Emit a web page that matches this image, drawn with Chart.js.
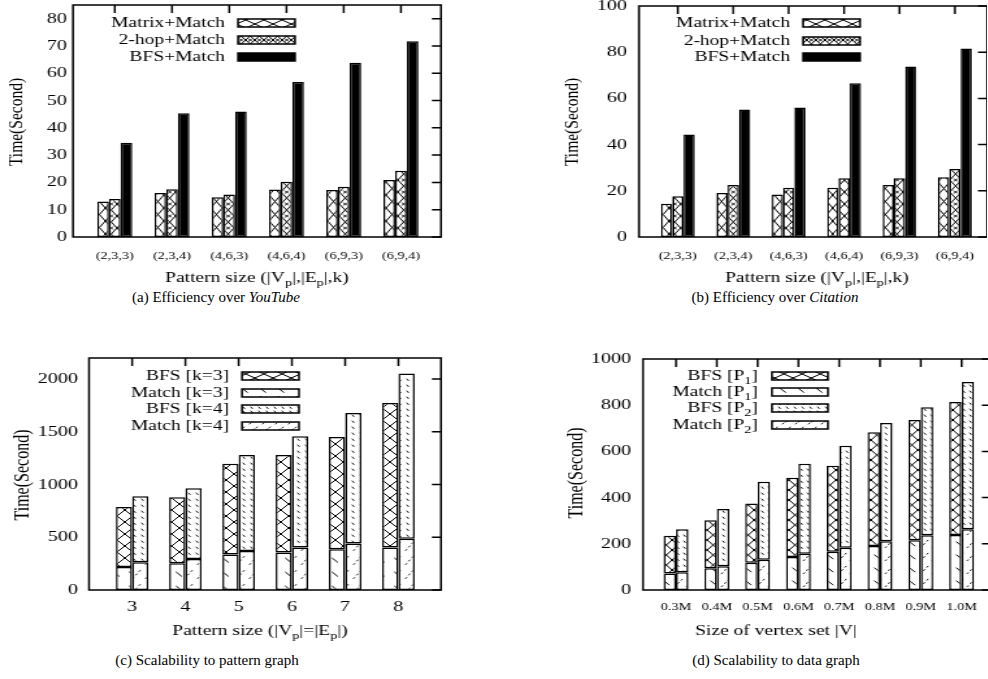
<!DOCTYPE html>
<html><head><meta charset="utf-8">
<script src="https://cdn.jsdelivr.net/npm/chart.js@4/dist/chart.umd.min.js"></script>
<style>
html,body{margin:0;padding:0;background:#fff;overflow:hidden;width:988px;height:679px;position:relative;}
.wrap{position:absolute;}
.wrap canvas{display:block;transform-origin:0 0;}
.cap{position:absolute;font-family:'Liberation Serif',serif;font-size:15px;line-height:16px;white-space:nowrap;transform:translateX(-50%);color:#000;}
</style></head><body>
<div class="cap" id="capA" style="left:216px;top:289px;">(a) Efficiency over <i>YouTube</i></div>
<div class="cap" id="capB" style="left:775px;top:289px;">(b) Efficiency over <i>Citation</i></div>
<div class="cap" id="capC" style="left:207px;top:652px;">(c) Scalability to pattern graph</div>
<div class="cap" id="capD" style="left:776px;top:652px;">(d) Scalability to data graph</div>
<script>
// ---------- data ----------
const catsA = ['(2,3,3)','(2,3,4)','(4,6,3)','(4,6,4)','(6,9,3)','(6,9,4)'];
const matrixA = [13.0, 16.1, 14.6, 17.4, 17.2, 20.9];
const twoHopA = [13.9, 17.5, 15.6, 20.2, 18.4, 24.3];
const bfsA = [34.5, 45.3, 46.0, 56.8, 63.8, 71.7];
const yTicksA = [0,10,20,30,40,50,60,70,80];

const catsB = ['(2,3,3)','(2,3,4)','(4,6,3)','(4,6,4)','(6,9,3)','(6,9,4)'];
const matrixB = [14.4, 19.0, 18.4, 21.3, 22.5, 25.9];
const twoHopB = [17.6, 22.5, 21.3, 25.4, 25.4, 29.4];
const bfsB = [44.4, 55.2, 56.1, 66.6, 73.8, 81.6];
const yTicksB = [0,20,40,60,80,100];

const catsC = ['3','4','5','6','7','8'];
const matchK3C = [219, 254, 336, 355, 387, 403];
const bfsK3C = [568, 625, 861, 924, 1063, 1371];
const matchK4C = [264, 295, 371, 403, 441, 486];
const bfsK4C = [624, 669, 908, 1056, 1237, 1567];
const yTicksC = [0,500,1000,1500,2000];

const catsD = ['0.3M','0.4M','0.5M','0.6M','0.7M','0.8M','0.9M','1.0M'];
const matchP1D = [71, 94, 118, 143, 166, 190, 215, 238];
const bfsP1D = [164, 208, 256, 343, 372, 493, 521, 576];
const matchP2D = [77, 103, 131, 157, 183, 211, 237, 263];
const bfsP2D = [186, 248, 338, 390, 442, 512, 554, 637];
const yTicksD = [0,200,400,600,800,1000];

const legendAB = ['Matrix+Match','2-hop+Match','BFS+Match'];
const legendC = ['BFS [k=3]','Match [k=3]','BFS [k=4]','Match [k=4]'];
const legendD = ['BFS [P_1]','Match [P_1]','BFS [P_2]','Match [P_2]'];

// ---------- helpers ----------
const SX = 1.3;
const FONT = '"Liberation Serif", "Times New Roman", serif';

function mkPattern(ctx, kind, w, h){
  const c = document.createElement('canvas'); c.width = w; c.height = h;
  const g = c.getContext('2d');
  g.fillStyle = '#fff'; g.fillRect(0,0,w,h);
  g.strokeStyle = '#000'; g.fillStyle = '#000'; g.lineWidth = 1; g.lineCap = 'round';
  const line = (x1,y1,x2,y2)=>{ g.beginPath(); g.moveTo(x1,y1); g.lineTo(x2,y2); g.stroke(); };
  if (kind === 'cross' || kind === 'crossx') {
    for (const dx of [-w,0,w]) for (const dy of [-h,0,h]) {
      line(dx,dy,dx+w,dy+h); line(dx+w,dy,dx,dy+h);
    }
    if (kind === 'crossx') {
      g.lineWidth = 1;
      for (const dy of [0,h]) {
        const cx = w/2, cy = dy, r = 1.1;
        line(cx-r,cy-r,cx+r,cy+r); line(cx+r,cy-r,cx-r,cy+r);
      }
    }
  } else if (kind === 'dash') {
    line(w*0.3, h*0.3, w*0.3+4, h*0.3+4);
  } else if (kind === 'dots') {
    g.lineWidth = 0.9;
    line(1,1,2.2,2.6);
  } else if (kind === 'slash') {
    g.lineWidth = 0.9;
    line(2,h*0.75,2.8,h*0.75-1); line(4.5,h*0.5,5.3,h*0.5-1); line(7,h*0.25,7.8,h*0.25-1);
  }
  return ctx.createPattern(c,'repeat');
}

function drawRich(ctx, text, x, y, size, align){
  const parts = []; const re = /_(.)/g; let last = 0, m;
  while ((m = re.exec(text))) {
    if (m.index > last) parts.push({t:text.slice(last,m.index), sub:false});
    parts.push({t:m[1], sub:true}); last = re.lastIndex;
  }
  if (last < text.length) parts.push({t:text.slice(last), sub:false});
  const fN = size + 'px ' + FONT, fS = Math.round(size*0.72) + 'px ' + FONT;
  let w = 0;
  parts.forEach(p=>{ ctx.font = p.sub ? fS : fN; p.w = ctx.measureText(p.t).width; w += p.w; });
  let cx = align === 'right' ? x - w : (align === 'center' ? x - w/2 : x);
  ctx.textBaseline = 'middle'; ctx.textAlign = 'left'; ctx.fillStyle = '#000';
  parts.forEach(p=>{ ctx.font = p.sub ? fS : fN; ctx.fillText(p.t, cx, y + (p.sub ? size*0.32 : 0)); cx += p.w; });
}

const framePlugin = {
  id: 'frame',
  afterDraw(chart){
    const o = chart.options.plugins.frame;
    const ctx = chart.ctx, a = chart.chartArea;
    const xs = chart.scales.x, ys = chart.scales.y;
    ctx.save();
    ctx.strokeStyle = '#000'; ctx.lineWidth = 1.5;
    ctx.beginPath();
    xs.ticks.forEach(t=>{ const px = xs.getPixelForValue(t.value); ctx.moveTo(px, a.top); ctx.lineTo(px, a.top + 8); });
    ys.ticks.forEach(t=>{ const py = ys.getPixelForValue(t.value); ctx.moveTo(a.right, py); ctx.lineTo(a.right - 7, py); });
    ctx.stroke();
    ctx.strokeRect(a.left, a.top, a.right - a.left, a.bottom - a.top);
    // legend
    const lg = o.legend;
    const tx = (lg.textRight - o.L)/SX, bl = (lg.boxL - o.L)/SX, br = (lg.boxR - o.L)/SX;
    lg.items.forEach((it, i)=>{
      const y = lg.rows[i] - o.T;
      drawRich(ctx, it.label, tx, y, lg.size, 'right');
      ctx.fillStyle = it.fill;
      ctx.fillRect(bl, y - lg.boxH/2, br - bl, lg.boxH);
      ctx.lineWidth = 1.5; ctx.strokeStyle = '#000';
      ctx.strokeRect(bl, y - lg.boxH/2, br - bl, lg.boxH);
    });
    // x title
    drawRich(ctx, o.xTitle.text, (o.xTitle.x - o.L)/SX, o.xTitle.y - o.T, o.xTitle.size, 'center');
    // y title
    ctx.save();
    ctx.translate((o.yTitle.x - o.L)/SX, o.yTitle.y - o.T);
    ctx.rotate(-Math.PI/2);
    ctx.font = o.yTitle.size + 'px ' + FONT; ctx.fillStyle = '#000';
    ctx.textAlign = 'center'; ctx.textBaseline = 'middle';
    ctx.fillText(o.yTitle.text, 0, 0);
    ctx.restore();
    ctx.restore();
  }
};

function build(cfg){
  const wrap = document.createElement('div');
  wrap.className = 'wrap'; wrap.style.left = cfg.L + 'px'; wrap.style.top = cfg.T + 'px';
  const cv = document.createElement('canvas');
  const cw = Math.round(cfg.W / SX);
  cv.width = cw; cv.height = cfg.H;
  cv.style.transform = 'scaleX(' + SX + ')';
  wrap.appendChild(cv); document.body.appendChild(wrap);
  const ctx = cv.getContext('2d');
  const pl = (cfg.plot.l - cfg.L)/SX, pr = (cfg.plot.r - cfg.L)/SX;
  const pt = cfg.plot.t - cfg.T, pb = cfg.plot.b - cfg.T;
  const datasets = cfg.series(ctx).map(s => ({
    label: s.label,
    data: s.values.map((v,i)=>({x:i, y:v})),
    backgroundColor: s.fill,
    borderColor: '#000', borderWidth: 1.5, borderSkipped: false,
    stack: s.stack
  }));
  const legendItems = cfg.legendFills(ctx);
  const xLabelLH = cfg.xFont * 1.2;
  new Chart(ctx, {
    type: 'bar',
    data: { datasets },
    options: {
      responsive: false, animation: false, events: [],
      layout: { padding: { left: 0, top: pt, right: cw - pr, bottom: 0 } },
      datasets: { bar: { categoryPercentage: cfg.catPct, barPercentage: 1 } },
      plugins: {
        legend: { display: false }, tooltip: { enabled: false },
        frame: {
          L: cfg.L, T: cfg.T,
          legend: { textRight: cfg.legend.textRight, boxL: cfg.legend.boxL, boxR: cfg.legend.boxR, boxH: 8, size: 15, rows: cfg.legend.rows, items: legendItems },
          xTitle: cfg.xTitle, yTitle: cfg.yTitle
        }
      },
      scales: {
        x: {
          type: 'linear', min: cfg.xMin, max: cfg.xMax, offset: false,
          grid: { display: false, drawTicks: false }, border: { display: false },
          afterBuildTicks: s => { s.ticks = cfg.cats.map((c,i)=>({value:i})); },
          ticks: { callback: v => cfg.cats[v], font: { family: FONT, size: cfg.xFont }, color: '#000',
                   padding: (cfg.xLabelY - cfg.plot.b) - xLabelLH/2, maxRotation: 0, minRotation: 0, autoSkip: false },
          afterFit: s => { s.height = cfg.H - pb; s.paddingLeft = 0; s.paddingRight = 0; s.paddingTop = 0; s.paddingBottom = 0; }
        },
        y: {
          min: 0, max: cfg.yMax, stacked: !!cfg.stacked,
          grid: { display: false, drawTicks: false }, border: { display: false },
          afterBuildTicks: s => { s.ticks = cfg.yTicks.map(v=>({value:v})); },
          ticks: { callback: v => String(v), font: { family: FONT, size: cfg.yFont }, color: '#000',
                   padding: pl - (cfg.yLabelRight - cfg.L)/SX },
          afterFit: s => { s.width = pl; s.paddingLeft = 0; s.paddingRight = 0; s.paddingTop = 0; s.paddingBottom = 0; }
        }
      }
    },
    plugins: [framePlugin]
  });
}

// (a)
build({
  L: 0, T: 0, W: 460, H: 300, plot: { l: 73, r: 441, t: 5, b: 237 },
  xMin: -0.73, xMax: 5.70, yMax: 85, yTicks: yTicksA, cats: catsA,
  xFont: 11, xLabelY: 256, yFont: 15.5, yLabelRight: 67, catPct: 0.61,
  series: ctx => [
    { label: legendAB[0], values: matrixA, fill: mkPattern(ctx,'cross',9,13) },
    { label: legendAB[1], values: twoHopA, fill: mkPattern(ctx,'crossx',9,12) },
    { label: legendAB[2], values: bfsA, fill: '#000' }
  ],
  legendFills: ctx => [
    { label: legendAB[0], fill: mkPattern(ctx,'cross',14,8) },
    { label: legendAB[1], fill: mkPattern(ctx,'crossx',7,8) },
    { label: legendAB[2], fill: '#000' }
  ],
  legend: { textRight: 225, boxL: 238, boxR: 295, rows: [23,40,57] },
  xTitle: { text: 'Pattern size (|V_p|,|E_p|,k)', x: 257, y: 278, size: 15 },
  yTitle: { text: 'Time(Second)', x: 17, y: 122, size: 15.5 }
});

// (b)
build({
  L: 470, T: 0, W: 518, H: 300, plot: { l: 639, r: 987, t: 6, b: 237 },
  xMin: -0.70, xMax: 5.58, yMax: 100, yTicks: yTicksB, cats: catsB,
  xFont: 11, xLabelY: 256, yFont: 15.5, yLabelRight: 627, catPct: 0.61,
  series: ctx => [
    { label: legendAB[0], values: matrixB, fill: mkPattern(ctx,'cross',9,13) },
    { label: legendAB[1], values: twoHopB, fill: mkPattern(ctx,'crossx',9,12) },
    { label: legendAB[2], values: bfsB, fill: '#000' }
  ],
  legendFills: ctx => [
    { label: legendAB[0], fill: mkPattern(ctx,'cross',14,8) },
    { label: legendAB[1], fill: mkPattern(ctx,'crossx',7,8) },
    { label: legendAB[2], fill: '#000' }
  ],
  legend: { textRight: 790, boxL: 803, boxR: 860, rows: [23,41,57] },
  xTitle: { text: 'Pattern size (|V_p|,|E_p|,k)', x: 817, y: 278, size: 15 },
  yTitle: { text: 'Time(Second)', x: 572, y: 122, size: 15.5 }
});

// (c)
build({
  L: 0, T: 330, W: 460, H: 315, plot: { l: 89, r: 441, t: 358, b: 590 },
  xMin: -0.81, xMax: 5.80, yMax: 2200, yTicks: yTicksC, cats: catsC, stacked: true,
  xFont: 15.5, xLabelY: 607, yFont: 15.5, yLabelRight: 78, catPct: 0.61,
  series: ctx => [
    { label: legendC[1], values: matchK3C, fill: mkPattern(ctx,'dash',12,14), stack: 'k3' },
    { label: legendC[0], values: bfsK3C, fill: mkPattern(ctx,'cross',12,12), stack: 'k3' },
    { label: legendC[3], values: matchK4C, fill: mkPattern(ctx,'slash',10,14), stack: 'k4' },
    { label: legendC[2], values: bfsK4C, fill: mkPattern(ctx,'dots',6,6), stack: 'k4' }
  ],
  legendFills: ctx => [
    { label: legendC[0], fill: mkPattern(ctx,'cross',14,8) },
    { label: legendC[1], fill: mkPattern(ctx,'dash',14,8) },
    { label: legendC[2], fill: mkPattern(ctx,'dots',6,4) },
    { label: legendC[3], fill: mkPattern(ctx,'slash',10,8) }
  ],
  legend: { textRight: 229, boxL: 242, boxR: 299, rows: [376,393,409,426] },
  xTitle: { text: 'Pattern size (|V_p|=|E_p|)', x: 260, y: 631, size: 15 },
  yTitle: { text: 'Time(Second)', x: 23, y: 475, size: 16 }
});

// (d)
build({
  L: 520, T: 330, W: 480, H: 315, plot: { l: 643, r: 991, t: 359, b: 590 },
  xMin: -0.81, xMax: 7.72, yMax: 1000, yTicks: yTicksD, cats: catsD, stacked: true,
  xFont: 11, xLabelY: 607, yFont: 15.5, yLabelRight: 631, catPct: 0.61,
  series: ctx => [
    { label: legendD[1], values: matchP1D, fill: mkPattern(ctx,'dash',9,13), stack: 'p1' },
    { label: legendD[0], values: bfsP1D, fill: mkPattern(ctx,'cross',9,10), stack: 'p1' },
    { label: legendD[3], values: matchP2D, fill: mkPattern(ctx,'slash',9,13), stack: 'p2' },
    { label: legendD[2], values: bfsP2D, fill: mkPattern(ctx,'dots',5,6), stack: 'p2' }
  ],
  legendFills: ctx => [
    { label: legendD[0], fill: mkPattern(ctx,'cross',14,8) },
    { label: legendD[1], fill: mkPattern(ctx,'dash',14,8) },
    { label: legendD[2], fill: mkPattern(ctx,'dots',6,4) },
    { label: legendD[3], fill: mkPattern(ctx,'slash',10,8) }
  ],
  legend: { textRight: 758, boxL: 772, boxR: 828, rows: [376,392,408,425] },
  xTitle: { text: 'Size of vertex set |V|', x: 776, y: 631, size: 15 },
  yTitle: { text: 'Time(Second)', x: 577, y: 473, size: 16 }
});
</script>
</body></html>
